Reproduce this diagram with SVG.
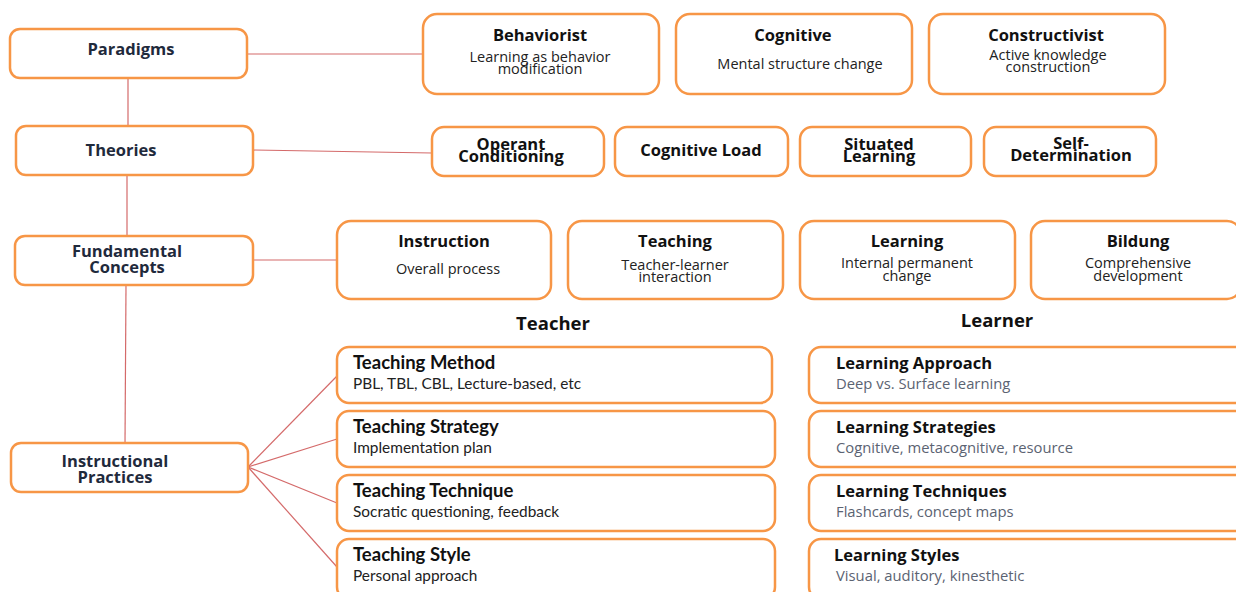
<svg xmlns="http://www.w3.org/2000/svg" width="1236" height="592" viewBox="0 0 1236 592">
<style>
.box{fill:#fff;stroke:#f79646;stroke-width:2.5}
.ln{stroke:#d46a6a;stroke-width:1.2;fill:none}
.lh{font-family:"Open Sans",sans-serif;font-weight:bold;font-size:16.5px;fill:#1f2a3c;text-anchor:middle}
.t{font-family:"Open Sans",sans-serif;font-weight:bold;font-size:16.5px;fill:#111;text-anchor:middle}
.s{font-family:"Open Sans",sans-serif;font-size:14.5px;fill:#222;text-anchor:middle}
.ct{font-family:Lato,sans-serif;font-weight:bold;font-size:18.5px;fill:#111}
.cs{font-family:Lato,sans-serif;font-size:15.4px;fill:#222}
.lt{font-family:"Open Sans",sans-serif;font-weight:bold;font-size:16.5px;fill:#111}
.ls{font-family:"Open Sans",sans-serif;font-size:14.8px;fill:#5b6372}
.hd{font-family:"Open Sans",sans-serif;font-weight:bold;font-size:18.5px;fill:#111;text-anchor:middle}
</style>
<rect width="1236" height="592" fill="#fff"/>
<g id="connectors">
<line class="ln" x1="247" y1="54" x2="423" y2="54"/>
<line class="ln" x1="253" y1="150" x2="432" y2="153"/>
<line class="ln" x1="253" y1="260" x2="337" y2="260"/>
<line class="ln" x1="128" y1="78" x2="128" y2="126"/>
<line class="ln" x1="127" y1="175" x2="127" y2="236"/>
<line class="ln" x1="126" y1="285" x2="125" y2="443"/>
<line class="ln" x1="248" y1="467" x2="337" y2="376"/>
<line class="ln" x1="248" y1="467" x2="337" y2="439"/>
<line class="ln" x1="248" y1="467" x2="337" y2="503"/>
<line class="ln" x1="248" y1="467" x2="337" y2="567"/>
</g>
<g id="paradigms"><rect class="box" x="10" y="29" width="237" height="49" rx="10"/><text class="lh" x="131" y="55">Paradigms</text></g>
<g id="theories"><rect class="box" x="16" y="126" width="237" height="49" rx="10"/><text class="lh" x="121" y="156">Theories</text></g>
<g id="fundamental"><rect class="box" x="15" y="236" width="238" height="49" rx="10"/><text class="lh" x="127" y="257">Fundamental</text><text class="lh" x="127" y="273">Concepts</text></g>
<g id="instructional"><rect class="box" x="11" y="443" width="237" height="49" rx="10"/><text class="lh" x="115" y="467">Instructional</text><text class="lh" x="115" y="483">Practices</text></g>

<g id="behaviorist"><rect class="box" x="423" y="14" width="236" height="80" rx="14"/><text class="t" x="540" y="41">Behaviorist</text><text class="s" x="540" y="62">Learning as behavior</text><text class="s" x="540" y="74">modification</text></g>
<g id="cognitive"><rect class="box" x="676" y="14" width="236" height="80" rx="14"/><text class="t" x="793" y="41">Cognitive</text><text class="s" x="800" y="69">Mental structure change</text></g>
<g id="constructivist"><rect class="box" x="929" y="14" width="236" height="80" rx="14"/><text class="t" x="1046" y="41">Constructivist</text><text class="s" x="1048" y="60">Active knowledge</text><text class="s" x="1048" y="72">construction</text></g>

<g id="operant"><rect class="box" x="432" y="127" width="172" height="49" rx="12"/><text class="t" x="511" y="150">Operant</text><text class="t" x="511" y="162">Conditioning</text></g>
<g id="cogload"><rect class="box" x="615" y="127" width="173" height="49" rx="12"/><text class="t" x="701" y="156">Cognitive Load</text></g>
<g id="situated"><rect class="box" x="800" y="127" width="171" height="49" rx="12"/><text class="t" x="879" y="150">Situated</text><text class="t" x="879" y="162">Learning</text></g>
<g id="selfdet"><rect class="box" x="984" y="127" width="172" height="49" rx="12"/><text class="t" x="1071" y="149">Self-</text><text class="t" x="1071" y="161">Determination</text></g>

<g id="instruction"><rect class="box" x="337" y="221" width="214" height="78" rx="14"/><text class="t" x="444" y="247">Instruction</text><text class="s" x="448" y="274">Overall process</text></g>
<g id="teaching"><rect class="box" x="568" y="221" width="215" height="78" rx="14"/><text class="t" x="675" y="247">Teaching</text><text class="s" x="675" y="270">Teacher-learner</text><text class="s" x="675" y="282">interaction</text></g>
<g id="learning"><rect class="box" x="800" y="221" width="215" height="78" rx="14"/><text class="t" x="907" y="247">Learning</text><text class="s" x="907" y="268">Internal permanent</text><text class="s" x="907" y="281">change</text></g>
<g id="bildung"><rect class="box" x="1031" y="221" width="210" height="78" rx="14"/><text class="t" x="1138" y="247">Bildung</text><text class="s" x="1138" y="268">Comprehensive</text><text class="s" x="1138" y="281">development</text></g>

<text class="hd" x="553" y="330">Teacher</text>
<text class="hd" x="997" y="327">Learner</text>

<g id="t-method"><rect class="box" x="337" y="347" width="435" height="56" rx="12"/><text class="ct" x="353" y="369">Teaching Method</text><text class="cs" x="353" y="389">PBL, TBL, CBL, Lecture-based, etc</text></g>
<g id="t-strategy"><rect class="box" x="337" y="411" width="438" height="56" rx="12"/><text class="ct" x="353" y="433">Teaching Strategy</text><text class="cs" x="353" y="453">Implementation plan</text></g>
<g id="t-technique"><rect class="box" x="337" y="475" width="438" height="56" rx="12"/><text class="ct" x="353" y="497">Teaching Technique</text><text class="cs" x="353" y="517">Socratic questioning, feedback</text></g>
<g id="t-style"><rect class="box" x="337" y="539" width="438" height="60" rx="12"/><text class="ct" x="353" y="561">Teaching Style</text><text class="cs" x="353" y="581">Personal approach</text></g>

<g id="l-approach"><rect class="box" x="809" y="347" width="440" height="56" rx="12"/><text class="lt" x="836" y="369">Learning Approach</text><text class="ls" x="836" y="389">Deep vs. Surface learning</text></g>
<g id="l-strategies"><rect class="box" x="809" y="411" width="440" height="56" rx="12"/><text class="lt" x="836" y="433">Learning Strategies</text><text class="ls" x="836" y="453">Cognitive, metacognitive, resource</text></g>
<g id="l-techniques"><rect class="box" x="809" y="475" width="440" height="56" rx="12"/><text class="lt" x="836" y="497">Learning Techniques</text><text class="ls" x="836" y="517">Flashcards, concept maps</text></g>
<g id="l-styles"><rect class="box" x="809" y="539" width="440" height="60" rx="12"/><text class="lt" x="834" y="561">Learning Styles</text><text class="ls" x="836" y="581">Visual, auditory, kinesthetic</text></g>
</svg>
